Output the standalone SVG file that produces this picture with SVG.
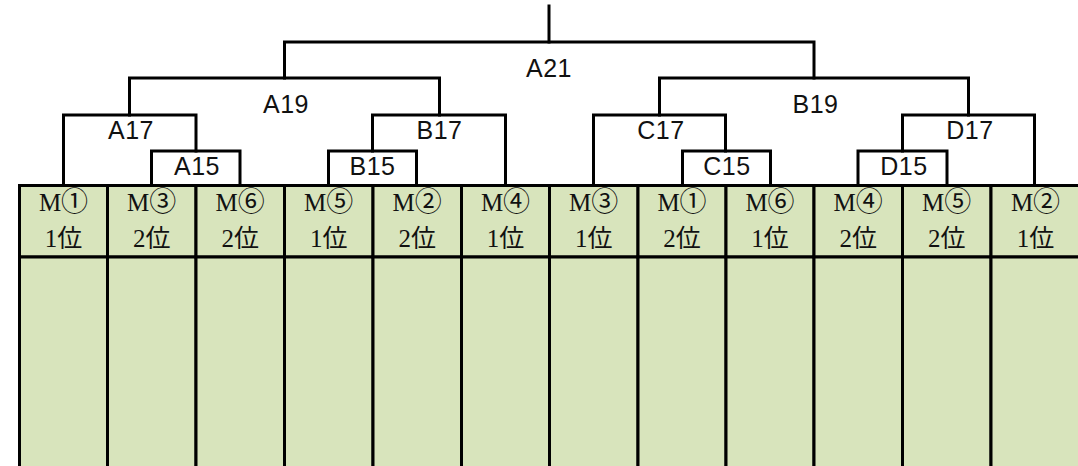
<svg xmlns="http://www.w3.org/2000/svg" width="1078" height="466" viewBox="0 0 1078 466">
<style>
.ln{fill:none;stroke:#000;stroke-width:3;stroke-linejoin:miter;stroke-linecap:square}
.cell{fill:#d8e4bc;stroke:#000;stroke-width:3}
.lbl{font-family:"Liberation Sans","Noto Sans",sans-serif;font-size:25px;fill:#111;text-anchor:middle;letter-spacing:0.5px}
.ct{font-family:"Liberation Serif","Noto Sans CJK JP",serif;font-size:25px;fill:#111;text-anchor:middle}
.cd{font-family:"Noto Sans CJK JP","DejaVu Sans",sans-serif;font-size:27px}
</style>
<rect width="1078" height="466" fill="#fff"/>
<g id="connectors">
<path class="ln" d="M549,6 V42"/>
<path class="ln" d="M284.5,78 V42 H814 V78"/>
<path class="ln" d="M129.5,115 V78 H439.5 V115"/>
<path class="ln" d="M659.5,115 V78 H968.5 V115"/>
<path class="ln" d="M63.5,185 V115 H196 V151"/>
<path class="ln" d="M372.5,151 V115 H505.5 V185"/>
<path class="ln" d="M593.5,185 V115 H725.5 V151"/>
<path class="ln" d="M902.5,151 V115 H1034.5 V185"/>
<path class="ln" d="M151.5,185 V151 H240 V185"/>
<path class="ln" d="M328.5,185 V151 H416.5 V185"/>
<path class="ln" d="M682.5,185 V151 H770.5 V185"/>
<path class="ln" d="M858,185 V151 H947 V185"/>
</g>
<g id="A21"><text class="lbl" x="549" y="77">A21</text></g>
<g id="A19"><text class="lbl" x="286" y="113">A19</text></g>
<g id="B19"><text class="lbl" x="815.5" y="113">B19</text></g>
<g id="A17"><text class="lbl" x="131" y="139">A17</text></g>
<g id="B17"><text class="lbl" x="439.5" y="139">B17</text></g>
<g id="C17"><text class="lbl" x="661" y="139">C17</text></g>
<g id="D17"><text class="lbl" x="970" y="139">D17</text></g>
<g id="A15"><text class="lbl" x="197" y="175">A15</text></g>
<g id="B15"><text class="lbl" x="372.5" y="175">B15</text></g>
<g id="C15"><text class="lbl" x="727" y="175">C15</text></g>
<g id="D15"><text class="lbl" x="904" y="175">D15</text></g>
<g id="col1"><rect class="cell" x="19.5" y="185.5" width="88" height="71.5"/><rect class="cell" x="19.5" y="257" width="88" height="220"/><text class="ct" x="63.5" y="211">M<tspan class="cd">①</tspan></text><text class="ct" x="63.5" y="247">1位</text></g>
<g id="col2"><rect class="cell" x="107.5" y="185.5" width="88.5" height="71.5"/><rect class="cell" x="107.5" y="257" width="88.5" height="220"/><text class="ct" x="151.7" y="211">M<tspan class="cd">③</tspan></text><text class="ct" x="151.7" y="247">2位</text></g>
<g id="col3"><rect class="cell" x="196" y="185.5" width="88.5" height="71.5"/><rect class="cell" x="196" y="257" width="88.5" height="220"/><text class="ct" x="240.2" y="211">M<tspan class="cd">⑥</tspan></text><text class="ct" x="240.2" y="247">2位</text></g>
<g id="col4"><rect class="cell" x="284.5" y="185.5" width="88.5" height="71.5"/><rect class="cell" x="284.5" y="257" width="88.5" height="220"/><text class="ct" x="328.7" y="211">M<tspan class="cd">⑤</tspan></text><text class="ct" x="328.7" y="247">1位</text></g>
<g id="col5"><rect class="cell" x="373" y="185.5" width="88.5" height="71.5"/><rect class="cell" x="373" y="257" width="88.5" height="220"/><text class="ct" x="417.2" y="211">M<tspan class="cd">②</tspan></text><text class="ct" x="417.2" y="247">2位</text></g>
<g id="col6"><rect class="cell" x="461.5" y="185.5" width="88" height="71.5"/><rect class="cell" x="461.5" y="257" width="88" height="220"/><text class="ct" x="505.5" y="211">M<tspan class="cd">④</tspan></text><text class="ct" x="505.5" y="247">1位</text></g>
<g id="col7"><rect class="cell" x="549.5" y="185.5" width="88.5" height="71.5"/><rect class="cell" x="549.5" y="257" width="88.5" height="220"/><text class="ct" x="593.7" y="211">M<tspan class="cd">③</tspan></text><text class="ct" x="593.7" y="247">1位</text></g>
<g id="col8"><rect class="cell" x="638" y="185.5" width="88" height="71.5"/><rect class="cell" x="638" y="257" width="88" height="220"/><text class="ct" x="682" y="211">M<tspan class="cd">①</tspan></text><text class="ct" x="682" y="247">2位</text></g>
<g id="col9"><rect class="cell" x="726" y="185.5" width="88" height="71.5"/><rect class="cell" x="726" y="257" width="88" height="220"/><text class="ct" x="770" y="211">M<tspan class="cd">⑥</tspan></text><text class="ct" x="770" y="247">1位</text></g>
<g id="col10"><rect class="cell" x="814" y="185.5" width="88.5" height="71.5"/><rect class="cell" x="814" y="257" width="88.5" height="220"/><text class="ct" x="858.2" y="211">M<tspan class="cd">④</tspan></text><text class="ct" x="858.2" y="247">2位</text></g>
<g id="col11"><rect class="cell" x="902.5" y="185.5" width="88.5" height="71.5"/><rect class="cell" x="902.5" y="257" width="88.5" height="220"/><text class="ct" x="946.7" y="211">M<tspan class="cd">⑤</tspan></text><text class="ct" x="946.7" y="247">2位</text></g>
<g id="col12"><rect class="cell" x="991" y="185.5" width="89" height="71.5"/><rect class="cell" x="991" y="257" width="89" height="220"/><text class="ct" x="1035.5" y="211">M<tspan class="cd">②</tspan></text><text class="ct" x="1035.5" y="247">1位</text></g>
</svg>
